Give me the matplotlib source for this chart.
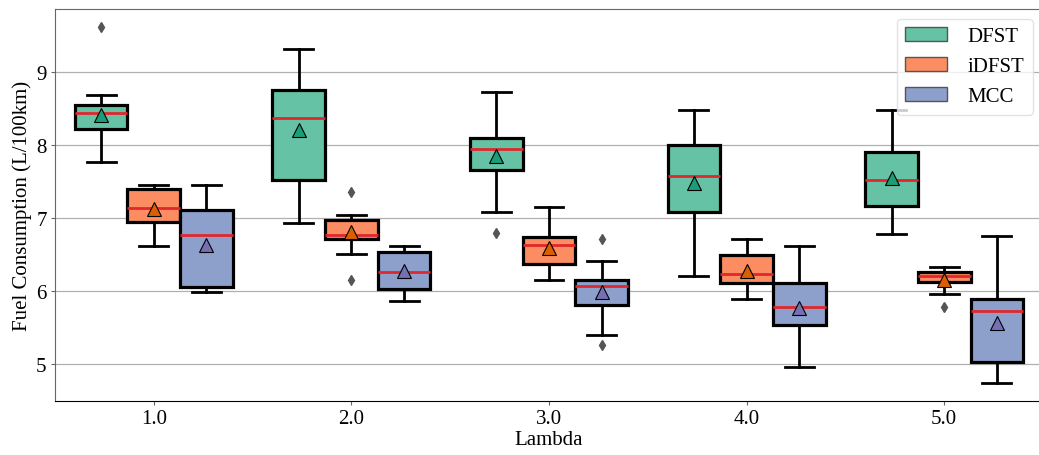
import matplotlib
matplotlib.use("Agg")
import matplotlib.pyplot as plt
from matplotlib.patches import Patch

plt.rcParams['font.family'] = ['Liberation Serif', 'DejaVu Serif']

lambdas = ["1.0", "2.0", "3.0", "4.0", "5.0"]
series = ["DFST", "iDFST", "MCC"]

# per series: lists over lambda groups
whislo = {
    "DFST":  [7.76, 6.92, 7.08, 6.20, 6.78],
    "iDFST": [6.61, 6.50, 6.14, 5.88, 5.96],
    "MCC":   [5.98, 5.86, 5.39, 4.95, 4.73],
}
q1 = {
    "DFST":  [8.21, 7.51, 7.65, 7.08, 7.16],
    "iDFST": [6.94, 6.71, 6.37, 6.10, 6.12],
    "MCC":   [6.05, 6.02, 5.80, 5.53, 5.02],
}
med = {
    "DFST":  [8.43, 8.36, 7.94, 7.57, 7.51],
    "iDFST": [7.13, 6.76, 6.63, 6.23, 6.20],
    "MCC":   [6.76, 6.25, 6.06, 5.77, 5.72],
}
q3 = {
    "DFST":  [8.54, 8.75, 8.09, 8.00, 7.90],
    "iDFST": [7.39, 6.97, 6.73, 6.49, 6.25],
    "MCC":   [7.11, 6.53, 6.14, 6.10, 5.89],
}
whishi = {
    "DFST":  [8.68, 9.31, 8.72, 8.47, 8.48],
    "iDFST": [7.45, 7.04, 7.14, 6.71, 6.32],
    "MCC":   [7.45, 6.61, 6.41, 6.61, 6.75],
}
means = {
    "DFST":  [8.41, 8.20, 7.84, 7.47, 7.54],
    "iDFST": [7.12, 6.80, 6.58, 6.27, 6.14],
    "MCC":   [6.63, 6.27, 5.98, 5.76, 5.56],
}
fliers = {
    "DFST":  [[9.61], [], [6.79], [], []],
    "iDFST": [[], [7.35, 6.14], [], [], [5.77]],
    "MCC":   [[], [], [6.71, 5.25], [], []],
}

box_colors = {"DFST": "#66c2a5", "iDFST": "#fc8d62", "MCC": "#8da0cb"}
mean_colors = {"DFST": "#1b9e77", "iDFST": "#d95f02", "MCC": "#7570b3"}

fig = plt.figure(figsize=(10.39, 4.56), dpi=100)
ax = fig.add_axes([55/1039, 1-402/456, (1043-55)/1039, (402-9.7)/456])

width = 0.8 / len(series)
for si, s in enumerate(series):
    offset = (si - 1) * width
    stats = []
    for gi in range(len(lambdas)):
        stats.append(dict(med=med[s][gi], q1=q1[s][gi], q3=q3[s][gi],
                          whislo=whislo[s][gi], whishi=whishi[s][gi],
                          mean=means[s][gi], fliers=fliers[s][gi]))
    positions = [gi + offset for gi in range(len(lambdas))]
    ax.bxp(stats, positions=positions, widths=width, patch_artist=True,
           showmeans=True, manage_ticks=False, capwidths=width * 0.55,
           boxprops=dict(facecolor=box_colors[s], edgecolor="black", linewidth=2.3),
           whiskerprops=dict(color="black", linewidth=2.0),
           capprops=dict(color="black", linewidth=2.0),
           medianprops=dict(color="#e0282c", linewidth=2.0),
           meanprops=dict(marker="^", markerfacecolor=mean_colors[s],
                          markeredgecolor="black", markersize=10, markeredgewidth=0.8),
           flierprops=dict(marker="d", markerfacecolor="#555555",
                           markeredgecolor="#555555", markersize=5))

ax.set_xlim(-0.5, len(lambdas) - 0.5)
ax.set_ylim(4.49, 9.86)
ax.set_xticks(range(len(lambdas)))
ax.set_xticklabels(lambdas, fontsize=15)
ax.set_yticks([5, 6, 7, 8, 9])
ax.set_yticklabels(["5", "6", "7", "8", "9"], fontsize=15)
ax.tick_params(axis="both", length=3, color="#666666", pad=3)
ax.yaxis.grid(True, color="#b0b0b0", linewidth=0.9)
ax.set_axisbelow(True)
ax.set_xlabel("Lambda", fontsize=15, labelpad=1)
ax.set_ylabel("Fuel Consumption (L/100km)", fontsize=15, labelpad=3)
for sp in ["left", "top", "right"]:
    ax.spines[sp].set_color("#666666")
ax.spines["bottom"].set_color("black")

handles = [Patch(facecolor=box_colors[s], edgecolor="#555555", label=s) for s in series]
ax.legend(handles=handles, loc="upper right", bbox_to_anchor=(1032/1043 + 0.0, 0.975),
          fontsize=15, frameon=True, framealpha=0.8, edgecolor="#dddddd",
          borderaxespad=0.0, handlelength=2.0, handletextpad=1.0)

fig.savefig("out.png", dpi=100)
